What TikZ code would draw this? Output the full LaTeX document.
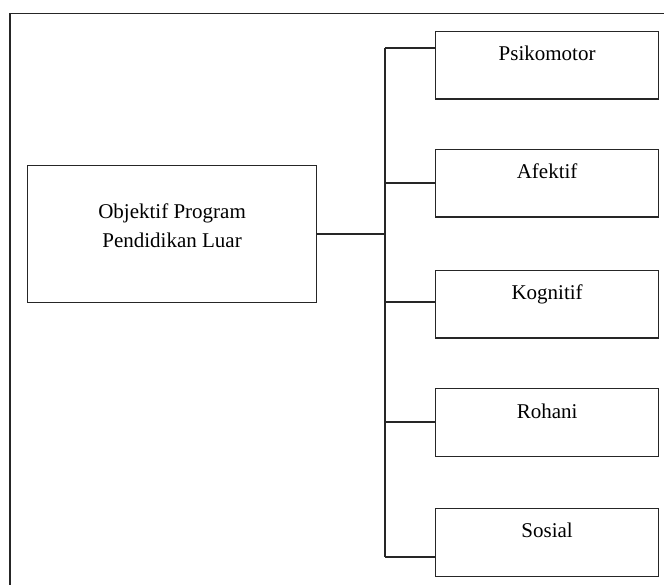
\documentclass[tikz,border=0pt]{standalone}
\usepackage{fontspec}
\setmainfont{Liberation Serif}
\begin{document}
\begin{tikzpicture}[x=1pt,y=-1pt,
  line width=1.2pt,
  frame/.style={draw=black!85, line width=1.2pt},
  box/.style={draw=black!85, line width=1.2pt, inner sep=0pt, anchor=north west, minimum width=223pt, minimum height=67.5pt},
  mainbox/.style={draw=black!85, line width=1.2pt, inner sep=0pt, anchor=north west, minimum width=289pt, minimum height=137pt},
  lbl/.style={inner sep=0pt, anchor=base, font=\fontsize{21}{29}\selectfont, align=center},
  conn/.style={draw=black!85, line width=1.2pt}
]
\useasboundingbox (0,0) rectangle (664,585);
% outer frame (right and bottom sides are outside the picture)
\draw[frame] (10,585) -- (10,13.5) -- (664,13.5);

% main box
\node[mainbox] (m) at (27,165) {};
\node[lbl] (mt) at ([yshift=-83pt]m.north) {Objektif Program\\Pendidikan Luar};

% child boxes
\node[box] (b1) at (435,31) {};
\node[box] (b2) at (435,149) {};
\node[box] (b3) at (435,270) {};
\node[box] (b4) at (435,388) {};
\node[box] (b5) at (435,508) {};
\node[lbl] (t1) at ([yshift=-30pt]b1.north) {Psikomotor};
\node[lbl] (t2) at ([yshift=-30pt]b2.north) {Afektif};
\node[lbl] (t3) at ([yshift=-30pt]b3.north) {Kognitif};
\node[lbl] (t4) at ([yshift=-30pt]b4.north) {Rohani};
\node[lbl] (t5) at ([yshift=-29pt]b5.north) {Sosial};

% connectors
\coordinate (j) at (385,234);
\coordinate (c1) at (385,48);
\coordinate (c2) at (385,183);
\coordinate (c3) at (385,302);
\coordinate (c4) at (385,422);
\coordinate (c5) at (385,557);
\draw[conn] (m.east |- j) -- (j);
\draw[conn] (c1) -- (c5);
\draw[conn] (c1) -- (c1 -| b1.west);
\draw[conn] (c2) -- (c2 -| b2.west);
\draw[conn] (c3) -- (c3 -| b3.west);
\draw[conn] (c4) -- (c4 -| b4.west);
\draw[conn] (c5) -- (c5 -| b5.west);
\end{tikzpicture}
\end{document}
